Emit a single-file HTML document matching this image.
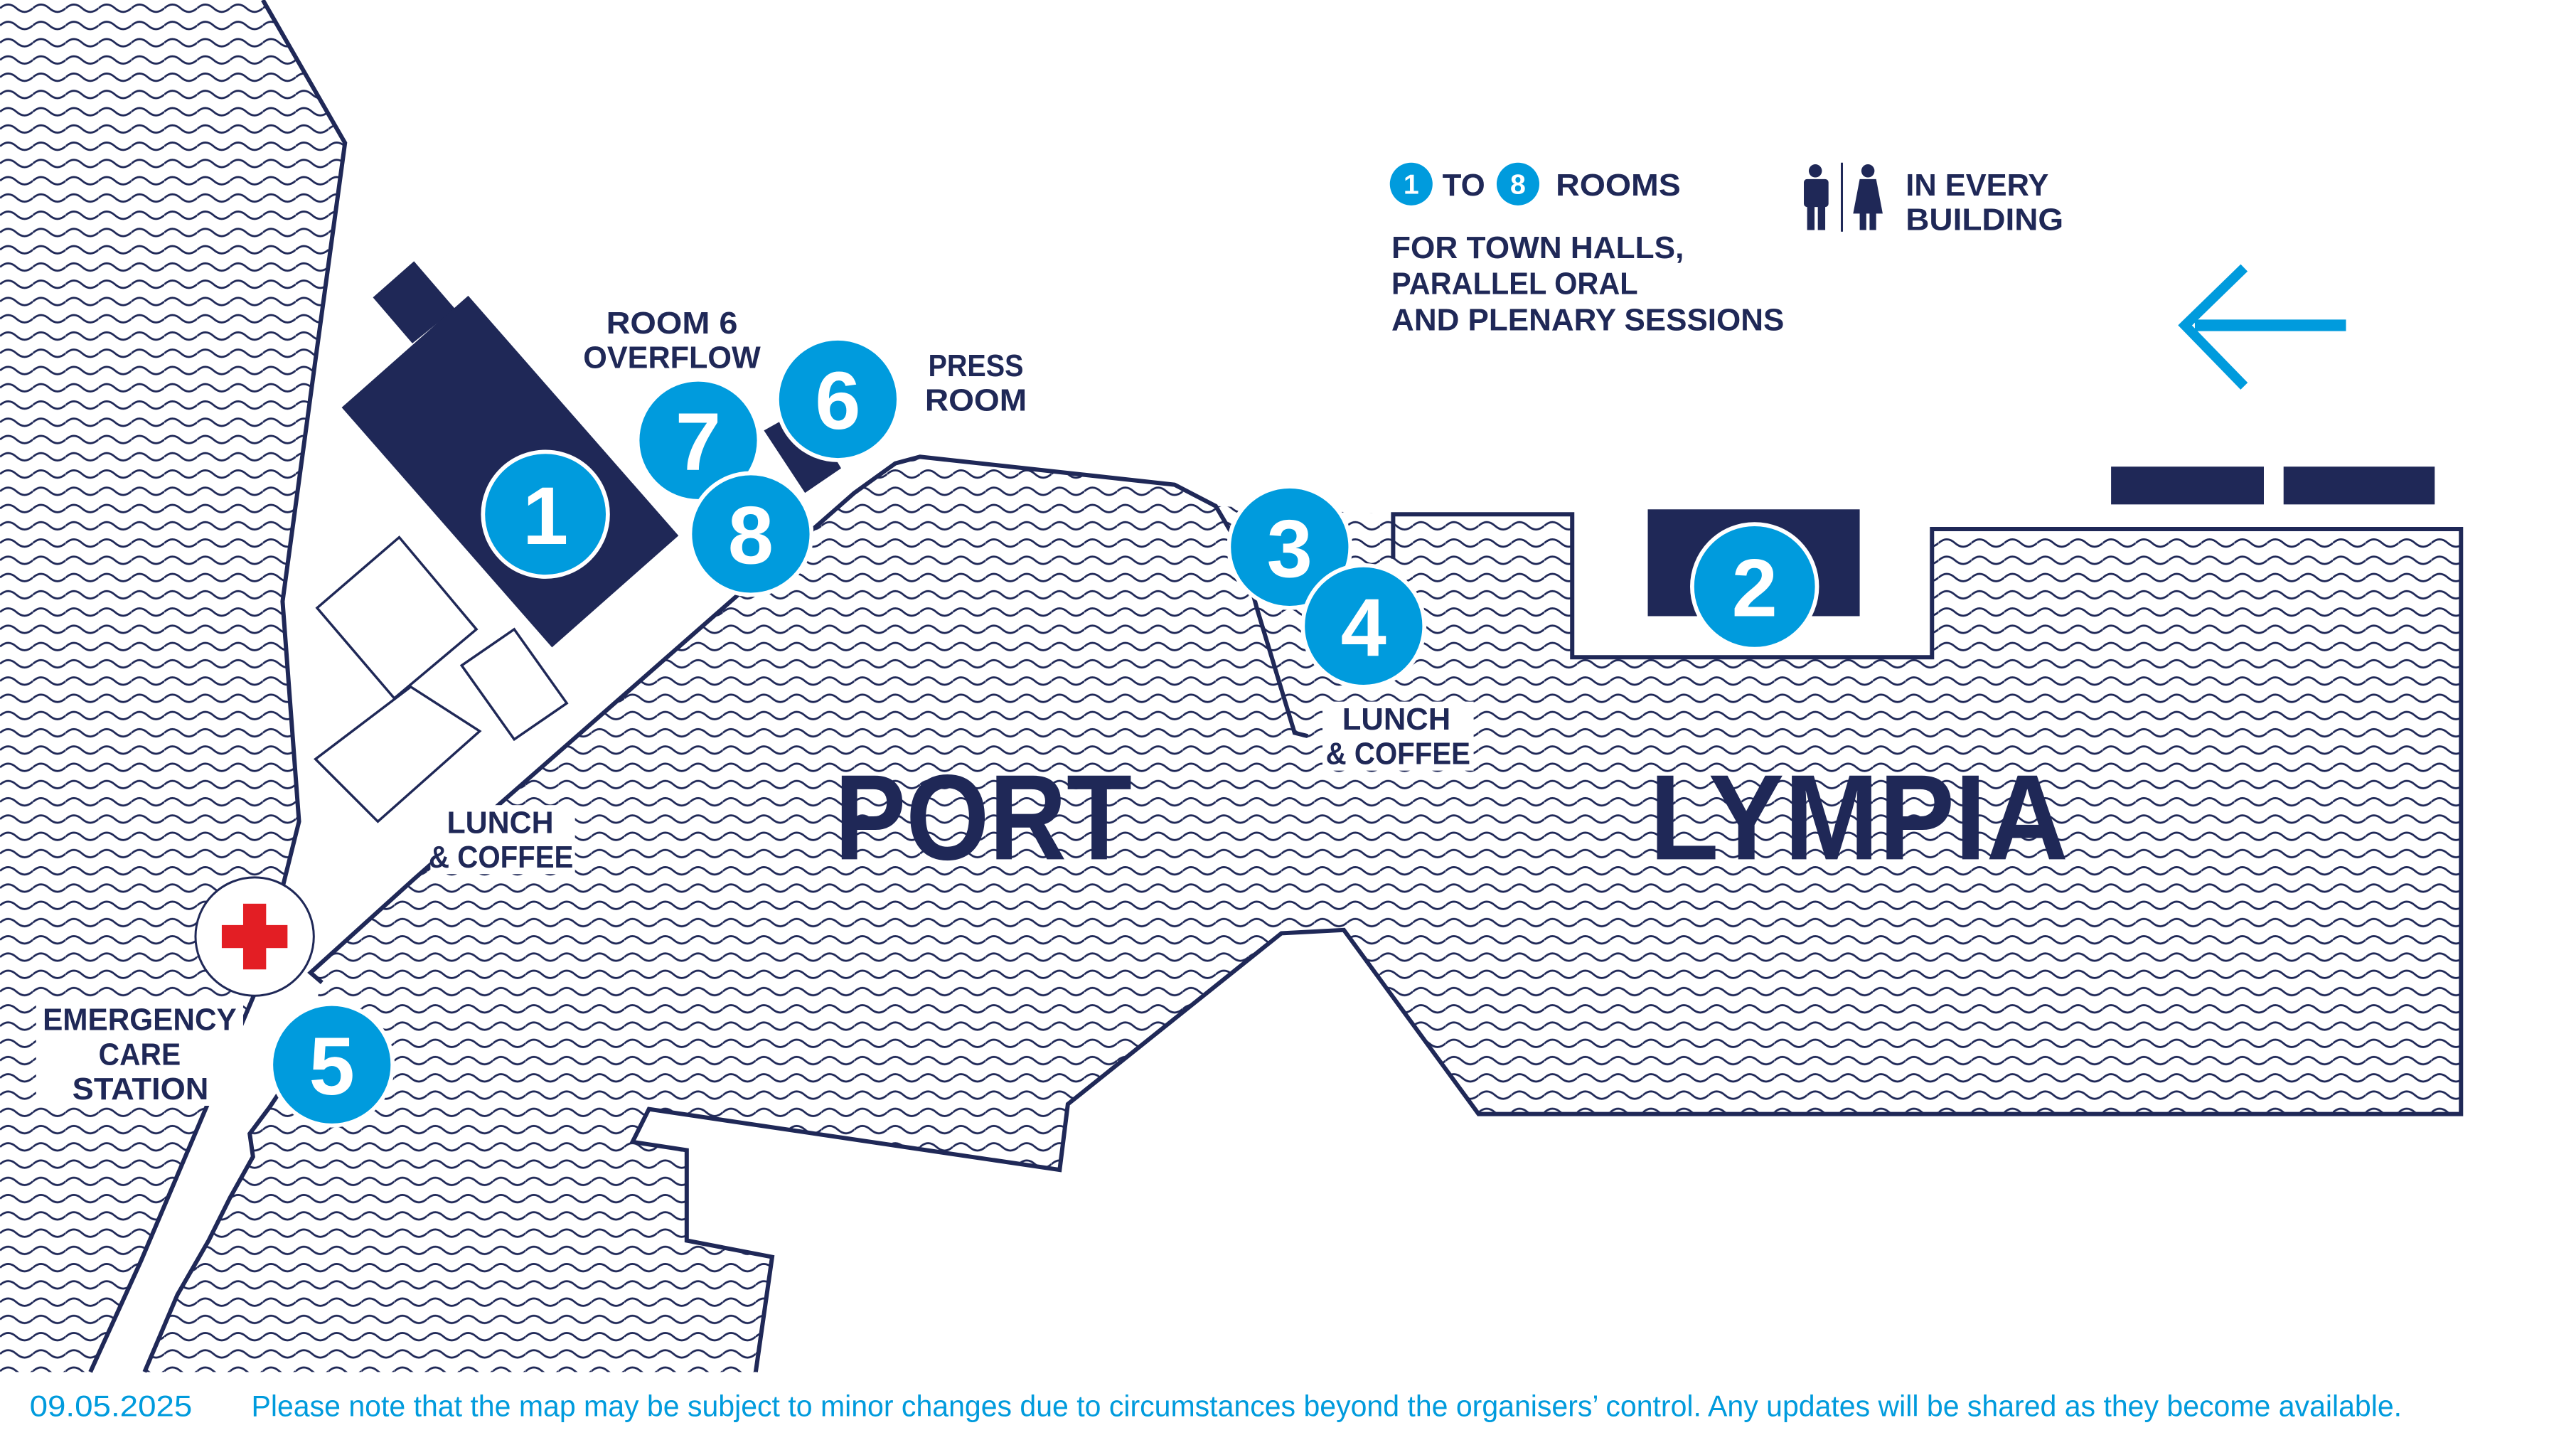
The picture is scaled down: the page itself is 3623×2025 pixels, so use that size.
<!DOCTYPE html>
<html><head><meta charset="utf-8"><style>
html,body{margin:0;padding:0;background:#fff;}
svg{display:block;}
text{font-family:"Liberation Sans Narrow","Liberation Sans",sans-serif;font-weight:bold;}
</style></head><body>
<svg width="3623" height="2025" viewBox="0 0 1568 876.4" preserveAspectRatio="none" xmlns="http://www.w3.org/2000/svg">
<defs>
<pattern id="w" patternUnits="userSpaceOnUse" width="20" height="10.5">
<path d="M0 5 Q5 0.5 10 5 T20 5" fill="none" stroke="#1f2857" stroke-width="1.2"/>
</pattern>
</defs>
<rect width="1568" height="876.4" fill="#fff"/>
<polygon points="0,0 160,0 210,87 172,366 182,500 157,600 86,767 55,835 0,835" fill="url(#w)"/>
<polyline points="160,0 210,87 172,366 182,500 157,600 86,767 55,835" fill="none" stroke="#1f2857" stroke-width="2.6"/>
<polygon points="88,835 108,788 127,755 140,729 154,704 152,690 164,674 180,650 196,598 189,592 252,535 520,300 545,282 560,278 715,295 740,308 848,313 957,313 957,400 1176,400 1176,322 1498,322 1498,678 900,678 818,566 780,568 650,672 645,712 395,675 385,695 418,700 418,755 470,765 460,835" fill="url(#w)"/>
<polyline points="88,835 108,788 127,755 140,729 154,704 152,690 164,674 180,650" fill="none" stroke="#1f2857" stroke-width="2.6"/>
<polyline points="196,598 189,592 252,535 520,300 545,282 560,278 715,295 740,308 750,325" fill="none" stroke="#1f2857" stroke-width="2.6"/>
<polyline points="848,340 848,313 957,313 957,400 1176,400 1176,322 1498,322 1498,678 900,678 818,566 780,568 650,672 645,712 395,675 385,695 418,700 418,755 470,765 460,835" fill="none" stroke="#1f2857" stroke-width="2.6"/>
<polyline points="752,322 765,370 788,446 796,448" fill="none" stroke="#1f2857" stroke-width="2.6"/>
<polygon points="227,181 252,159 277,188 251,209" fill="#1f2857"/>
<polygon points="208,248 285,180 413,326 336,394" fill="#1f2857"/>
<polygon points="193,370 243,327 290,383 240,425" fill="#fff" stroke="#1f2857" stroke-width="1.5"/>
<polygon points="281,405 313,383 345,428 313,450" fill="#fff" stroke="#1f2857" stroke-width="1.5"/>
<polygon points="192,462 250,418 292,445 230,500" fill="#fff" stroke="#1f2857" stroke-width="1.5"/>
<polygon points="465,262 490,248 512,285 490,300" fill="#1f2857"/>
<rect x="1003" y="310" width="129" height="65" fill="#1f2857"/>
<rect x="1285" y="284" width="93" height="23" fill="#1f2857"/>
<rect x="1390" y="284" width="92" height="23" fill="#1f2857"/>
<line x1="1336" y1="198" x2="1428" y2="198" stroke="#009bdd" stroke-width="7"/>
<polyline points="1366,163 1330,198 1366,235" fill="none" stroke="#009bdd" stroke-width="6"/>
<rect x="262" y="490" width="88" height="42" fill="#fff"/>
<rect x="805" y="427" width="92" height="42" fill="#fff"/>
<rect x="22" y="609" width="126" height="64" fill="#fff"/>
<circle cx="155" cy="570" r="36" fill="#fff" stroke="#1f2857" stroke-width="1.3"/>
<rect x="148" y="550" width="14" height="40" fill="#e31e24"/>
<rect x="135" y="563" width="40" height="14" fill="#e31e24"/>
<g stroke="#fff" stroke-width="2.5" fill="#009bdd">
<circle cx="332" cy="313" r="38"/>
<circle cx="425" cy="268" r="37"/>
<circle cx="510" cy="243" r="37"/>
<circle cx="457" cy="325" r="37"/>
<circle cx="785" cy="333" r="37"/>
<circle cx="830" cy="381" r="37"/>
<circle cx="1068" cy="357" r="38"/>
<circle cx="202" cy="648" r="37"/>
</g>
<g fill="#fff" font-size="50" text-anchor="middle">
<text x="332" y="331">1</text>
<text x="425" y="286">7</text>
<text x="510" y="261">6</text>
<text x="457" y="343">8</text>
<text x="785" y="351">3</text>
<text x="830" y="399">4</text>
<text x="1068" y="375">2</text>
<text x="202" y="666">5</text>
</g>
<g fill="#1f2857" font-size="19">
<text x="369" y="203" textLength="80" lengthAdjust="spacingAndGlyphs">ROOM 6</text>
<text x="355" y="224" textLength="108" lengthAdjust="spacingAndGlyphs">OVERFLOW</text>
<text x="565" y="229" textLength="58" lengthAdjust="spacingAndGlyphs">PRESS</text>
<text x="563" y="250" textLength="62" lengthAdjust="spacingAndGlyphs">ROOM</text>
<text x="272" y="507" textLength="65" lengthAdjust="spacingAndGlyphs">LUNCH</text>
<text x="261" y="528" textLength="88" lengthAdjust="spacingAndGlyphs">&amp; COFFEE</text>
<text x="817" y="444" textLength="66" lengthAdjust="spacingAndGlyphs">LUNCH</text>
<text x="807" y="465" textLength="88" lengthAdjust="spacingAndGlyphs">&amp; COFFEE</text>
<text x="26" y="627" textLength="118" lengthAdjust="spacingAndGlyphs">EMERGENCY</text>
<text x="60" y="648" textLength="50" lengthAdjust="spacingAndGlyphs">CARE</text>
<text x="44" y="669" textLength="83" lengthAdjust="spacingAndGlyphs">STATION</text>
</g>
<g fill="#1f2857" font-size="74">
<text x="508" y="523" textLength="181" lengthAdjust="spacingAndGlyphs">PORT</text>
<text x="1004" y="523" textLength="255" lengthAdjust="spacingAndGlyphs">LYMPIA</text>
</g>
<circle cx="859" cy="112" r="13" fill="#009bdd"/>
<circle cx="924" cy="112" r="13" fill="#009bdd"/>
<g fill="#fff" font-size="17" text-anchor="middle">
<text x="859" y="118">1</text>
<text x="924" y="118">8</text>
</g>
<g fill="#1f2857" font-size="19">
<text x="878" y="119" textLength="26" lengthAdjust="spacingAndGlyphs">TO</text>
<text x="947" y="119" textLength="76" lengthAdjust="spacingAndGlyphs">ROOMS</text>
<text x="847" y="157" textLength="178" lengthAdjust="spacingAndGlyphs">FOR TOWN HALLS,</text>
<text x="847" y="179" textLength="150" lengthAdjust="spacingAndGlyphs">PARALLEL ORAL</text>
<text x="847" y="201" textLength="239" lengthAdjust="spacingAndGlyphs">AND PLENARY SESSIONS</text>
<text x="1160" y="119" textLength="87" lengthAdjust="spacingAndGlyphs">IN EVERY</text>
<text x="1160" y="140" textLength="96" lengthAdjust="spacingAndGlyphs">BUILDING</text>
</g>
<g fill="#1f2857">
<circle cx="1105" cy="104" r="4"/>
<rect x="1098" y="109" width="15" height="17" rx="2"/>
<rect x="1100" y="124" width="4.5" height="16"/>
<rect x="1106.5" y="124" width="4.5" height="16"/>
<rect x="1120.5" y="99" width="1.3" height="42"/>
<circle cx="1137" cy="104" r="4"/>
<polygon points="1132,109 1142,109 1146,130 1128,130"/>
<rect x="1132" y="128" width="4" height="12"/>
<rect x="1138" y="128" width="4" height="12"/>
</g>
<g fill="#009bdd" font-size="18">
<text x="18" y="862" textLength="99" lengthAdjust="spacingAndGlyphs" style="font-weight:normal">09.05.2025</text>
<text x="153" y="862" textLength="1309" lengthAdjust="spacingAndGlyphs" style="font-weight:normal">Please note that the map may be subject to minor changes due to circumstances beyond the organisers’ control. Any updates will be shared as they become available.</text>
</g>
</svg>
</body></html>
